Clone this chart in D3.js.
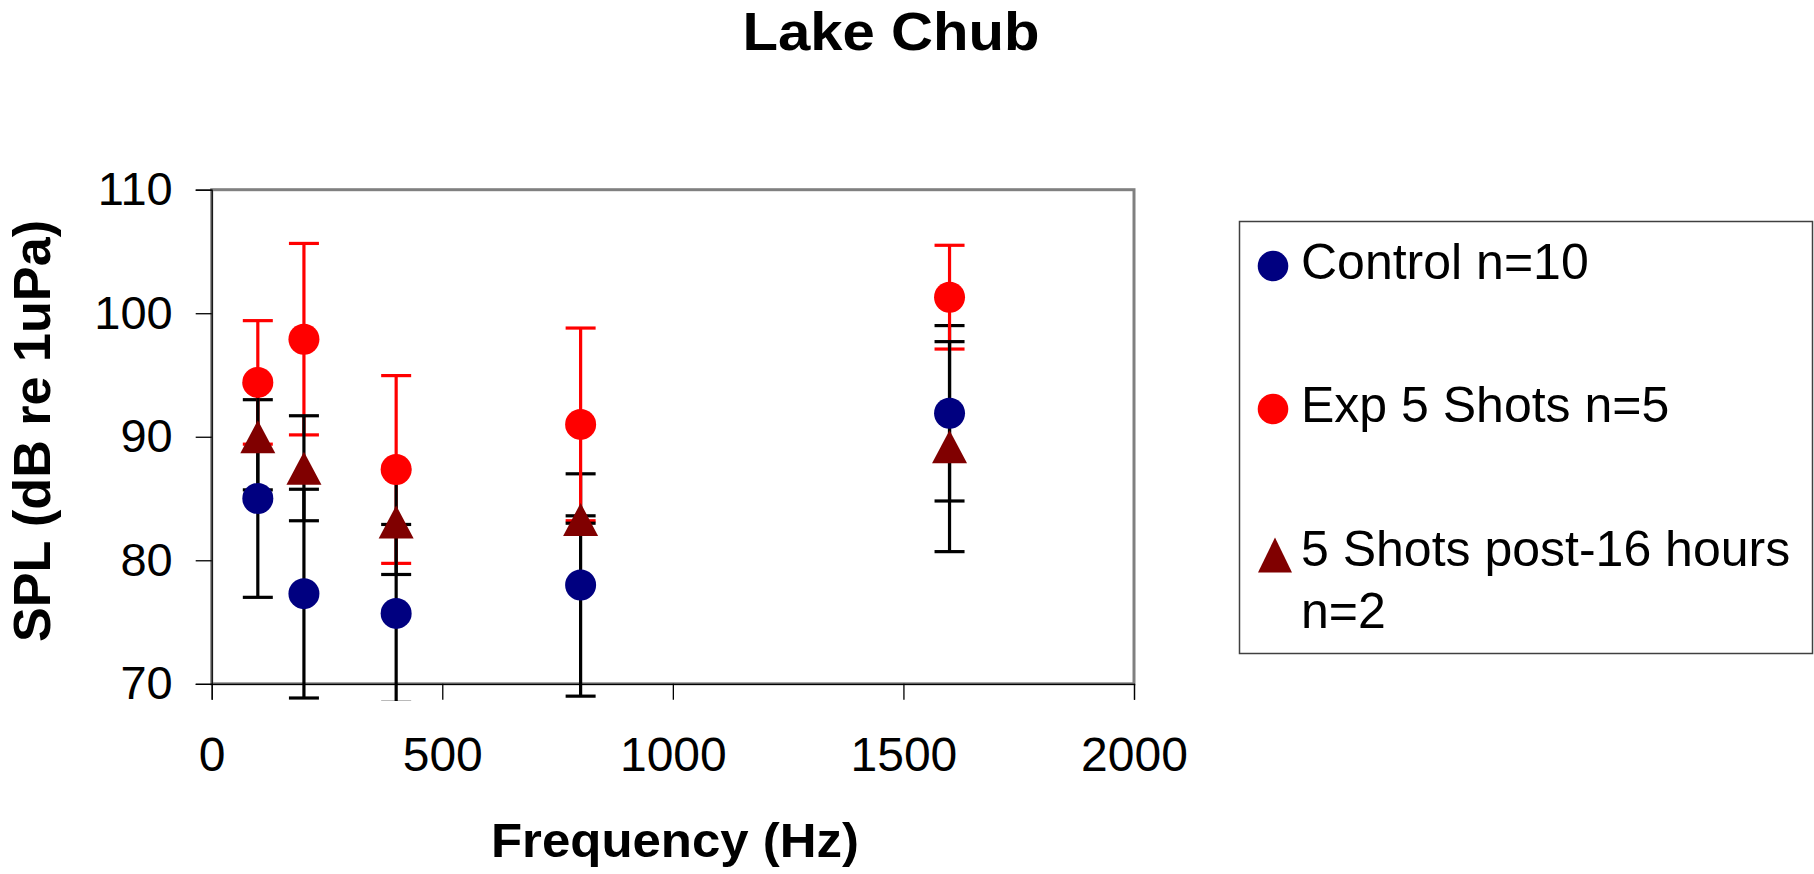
<!DOCTYPE html>
<html><head><meta charset="utf-8">
<script src="https://cdn.jsdelivr.net/npm/d3@7"></script>
<style>html,body{margin:0;padding:0;background:#fff;} svg{display:block;font-family:"Liberation Sans",Arial,sans-serif;}</style>
</head><body><svg id="c" width="1814" height="874"></svg>
<script>
// ---- data ----
const frequencies = [100, 200, 400, 800, 1600];
const controlMean = [85.0, 77.3, 75.7, 78.0, 91.9];
const controlErr  = [8.0, 8.45, 7.2, 9.0, 7.1];
const exp5Mean    = [94.4, 97.9, 87.35, 91.0, 101.3];
const exp5Err     = [5.0, 7.75, 7.6, 7.8, 4.2];
const post16Mean  = [90.0, 87.45, 83.1, 83.3, 89.2];
const post16Err   = [4.3, 4.25, 4.25, 0.3, 8.5];
const seriesLabels = [["Control n=10"], ["Exp 5 Shots n=5"], ["5 Shots post-16 hours", "n=2"]];
const xTicks = [0, 500, 1000, 1500, 2000];
const yTicks = [70, 80, 90, 100, 110];
const titleText = "Lake Chub";
const xTitle = "Frequency (Hz)";
const yTitle = "SPL (dB re 1uPa)";

const series = [
  {mean: controlMean, err: controlErr, color: "#000080", errColor: "#000000", shape: "circle"},
  {mean: exp5Mean, err: exp5Err, color: "#FF0000", errColor: "#FF0000", shape: "circle"},
  {mean: post16Mean, err: post16Err, color: "#800000", errColor: "#000000", shape: "triangle"}
];

const svg = d3.select("#c");
const L = 211.7, R = 1134, T = 189.7, B = 683.8;
const x = d3.scaleLinear().domain([0, 2000]).range([L, R]);
const y = d3.scaleLinear().domain([70, 110]).range([B, T]);

// plot frame
svg.append("rect").attr("x", L).attr("y", T).attr("width", R - L).attr("height", B - T)
  .attr("fill", "none").attr("stroke", "#808080").attr("stroke-width", 3);

// axes
const yAxis = d3.axisLeft(y).tickValues(yTicks).tickSize(16).tickPadding(23).tickFormat(d3.format("d"));
const gy = svg.append("g").attr("transform", `translate(${L},0)`).call(yAxis);
gy.select(".domain").attr("stroke", "#000").attr("stroke-width", 1.2);
gy.selectAll(".tick line").attr("stroke", "#000").attr("stroke-width", 1.3);
gy.selectAll(".tick text").attr("font-size", 47).attr("fill", "#000").attr("font-family", "Liberation Sans, Arial, sans-serif");

const xAxis = d3.axisBottom(x).tickValues(xTicks).tickSize(16).tickPadding(37).tickFormat(d3.format("d"));
const gx = svg.append("g").attr("transform", `translate(0,${B})`).call(xAxis);
gx.select(".domain").attr("stroke", "#000").attr("stroke-width", 1.2);
gx.selectAll(".tick line").attr("stroke", "#000").attr("stroke-width", 1.3);
gx.selectAll(".tick text").attr("font-size", 48).attr("fill", "#000").attr("font-family", "Liberation Sans, Arial, sans-serif");

// clip for error bars
svg.append("clipPath").attr("id", "eclip").append("rect")
  .attr("x", 0).attr("y", 0).attr("width", 1814).attr("height", 701);

const capW = 30;
const eg = svg.append("g").attr("clip-path", "url(#eclip)");
series.forEach(s => {
  frequencies.forEach((f, i) => {
    const cx = x(f), hi = y(s.mean[i] + s.err[i]), lo = y(s.mean[i] - s.err[i]);
    eg.append("line").attr("x1", cx).attr("x2", cx).attr("y1", hi).attr("y2", lo)
      .attr("stroke", s.errColor).attr("stroke-width", 3.2);
    [hi, lo].forEach(yy => eg.append("line").attr("x1", cx - capW / 2).attr("x2", cx + capW / 2)
      .attr("y1", yy).attr("y2", yy).attr("stroke", s.errColor).attr("stroke-width", 3.2));
  });
});

function tri(cx, cy, w, h) {
  return `M${cx},${cy - h / 2}L${cx + w / 2},${cy + h / 2}L${cx - w / 2},${cy + h / 2}Z`;
}
const mg = svg.append("g");
series.forEach(s => {
  frequencies.forEach((f, i) => {
    if (s.shape === "circle") {
      mg.append("circle").attr("cx", x(f)).attr("cy", y(s.mean[i])).attr("r", 15.5).attr("fill", s.color);
    } else {
      mg.append("path").attr("d", tri(x(f), y(s.mean[i]), 35, 33)).attr("fill", s.color);
    }
  });
});

// titles
svg.append("text").attr("x", 891).attr("y", 50).attr("text-anchor", "middle")
  .attr("font-size", 54).attr("font-weight", "bold").attr("textLength", 297).attr("lengthAdjust", "spacingAndGlyphs")
  .text(titleText);
svg.append("text").attr("x", 675).attr("y", 857).attr("text-anchor", "middle")
  .attr("font-size", 49).attr("font-weight", "bold").attr("textLength", 368).attr("lengthAdjust", "spacingAndGlyphs")
  .text(xTitle);
svg.append("text").attr("transform", "translate(50,431) rotate(-90)").attr("text-anchor", "middle")
  .attr("font-size", 52).attr("font-weight", "bold").attr("textLength", 422).attr("lengthAdjust", "spacingAndGlyphs")
  .text(yTitle);

// legend
const lg = svg.append("g");
lg.append("rect").attr("x", 1239.5).attr("y", 221.5).attr("width", 573).attr("height", 432)
  .attr("fill", "#fff").attr("stroke", "#404040").attr("stroke-width", 1.5);
const legY = [266, 409, 555];
const legBase = [[279], [422], [566, 628]];
series.forEach((s, k) => {
  if (s.shape === "circle") {
    lg.append("circle").attr("cx", 1273).attr("cy", legY[k]).attr("r", 15.3).attr("fill", s.color);
  } else {
    lg.append("path").attr("d", tri(1275, legY[k], 34, 35)).attr("fill", s.color);
  }
  seriesLabels[k].forEach((t, j) => {
    lg.append("text").attr("x", 1301).attr("y", legBase[k][j]).attr("font-size", 50).attr("fill", "#000").text(t);
  });
});
</script></body></html>
